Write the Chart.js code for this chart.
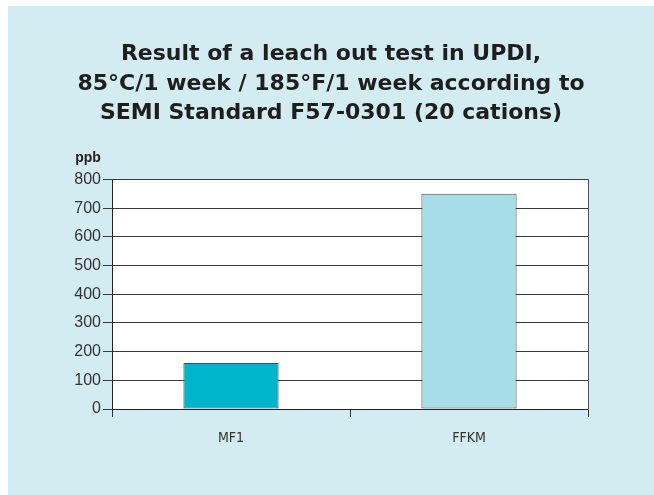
<!DOCTYPE html>
<html>
<head>
<meta charset="utf-8">
<script src="https://cdn.jsdelivr.net/npm/chart.js@4/dist/chart.umd.min.js"></script>
<style>
  html, body { margin: 0; padding: 0; background: #ffffff; }
  #panel {
    position: absolute; left: 8px; top: 6px;
    width: 646px; height: 489px;
    background: #d3ecf1;
  }
</style>
</head>
<body>
<div id="panel"><canvas id="myChart" width="646" height="489"></canvas></div>
<script>
const categories = ['MF1', 'FFKM']
const leachValues = [160, 750]
const barColors = ['#00b5cb', '#a6dde6']
const yTicks = [0, 100, 200, 300, 400, 500, 600, 700, 800]
const titleLines = [
  'Result of a leach out test in UPDI,',
  '85°C/1 week / 185°F/1 week according to',
  'SEMI Standard F57-0301 (20 cations)'
]
const unitLabel = 'ppb'

const titleFont = '"DejaVu Sans", sans-serif'
const labelFont = '"DejaVu Sans Condensed", "Liberation Sans", sans-serif'
const tickFont = '"Liberation Sans", Arial, sans-serif'

// white plot background + unit label
const plotDecor = {
  id: 'plotDecor',
  beforeDatasetsDraw(chart) {
    const { ctx, chartArea: a } = chart
    ctx.save()
    ctx.globalCompositeOperation = 'destination-over'
    ctx.fillStyle = '#ffffff'
    ctx.fillRect(a.left, a.top, a.right - a.left, a.bottom - a.top)
    ctx.restore()
  },
  afterDraw(chart) {
    const { ctx, chartArea: a } = chart
    ctx.save()
    ctx.fillStyle = '#222222'
    ctx.font = 'bold 14px ' + tickFont
    ctx.textAlign = 'center'
    ctx.textBaseline = 'alphabetic'
    ctx.fillText(unitLabel, a.left - 24, a.top - 17)
    ctx.restore()
  }
}

const ctx = document.getElementById('myChart').getContext('2d')
const myChart = new Chart(ctx, {
  type: 'bar',
  data: {
    labels: categories,
    datasets: [{
      data: leachValues,
      backgroundColor: barColors,
      borderColor: '#4d4d4d',
      borderWidth: 1,
      borderSkipped: false,
      barPercentage: 0.4,
      categoryPercentage: 1.0
    }]
  },
  options: {
    responsive: false,
    animation: false,
    events: [],
    layout: { padding: 0 },
    plugins: {
      legend: { display: false },
      tooltip: { enabled: false },
      title: {
        display: true,
        text: titleLines,
        color: '#1e1e1e',
        font: { family: titleFont, size: 22, weight: 'bold', lineHeight: 1.34 },
        padding: { top: 34, bottom: 51 }
      }
    },
    scales: {
      x: {
        offset: true,
        grid: {
          offset: true,
          drawOnChartArea: false,
          drawTicks: true,
          tickLength: 8,
          color: '#333333'
        },
        border: { color: '#222222', width: 1 },
        ticks: {
          color: '#333333',
          padding: 13,
          font: { family: labelFont, size: 14 }
        },
        afterFit(scale) { scale.height = 86 }
      },
      y: {
        min: 0,
        max: 800,
        afterBuildTicks(scale) { scale.ticks = yTicks.map(v => ({ value: v })) },
        grid: {
          color: '#3a3a3a',
          lineWidth: 1,
          drawTicks: true,
          tickLength: 9
        },
        border: { color: '#222222', width: 1 },
        ticks: {
          color: '#333333',
          padding: 2,
          font: { family: tickFont, size: 16 }
        },
        afterFit(scale) { scale.width = 104 }
      },
      // right frame edge of the plot
      yRight: {
        position: 'right',
        min: 0,
        max: 800,
        grid: { drawOnChartArea: false, drawTicks: false },
        border: { color: '#555555', width: 1 },
        ticks: { display: false },
        afterFit(scale) { scale.width = 66 }
      }
    }
  },
  plugins: [plotDecor]
})
</script>
</body>
</html>
